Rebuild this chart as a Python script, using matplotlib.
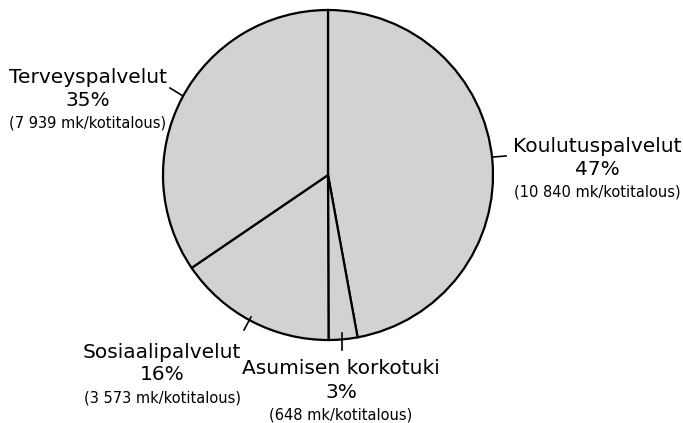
import matplotlib
matplotlib.use("Agg")
import matplotlib.pyplot as plt

# Household share of public services (mk per household)
labels = ["Koulutuspalvelut", "Asumisen korkotuki", "Sosiaalipalvelut", "Terveyspalvelut"]
values = [10840, 648, 3573, 7939]
percents = ["47%", "3%", "16%", "35%"]
amounts = ["(10 840 mk/kotitalous)", "(648 mk/kotitalous)",
           "(3 573 mk/kotitalous)", "(7 939 mk/kotitalous)"]

W, H = 683, 423
fig = plt.figure(figsize=(W / 100, H / 100), dpi=100)
ax = fig.add_axes([0, 0, 1, 1])

cx, cy, r = 328, H - 175, 165
ax.pie(values, center=(cx, cy), radius=r, startangle=90, counterclock=False,
       colors=["#d2d2d2"] * 4,
       wedgeprops=dict(edgecolor="black", linewidth=1.6), frame=True)
ax.set_xlim(0, W)
ax.set_ylim(0, H)
ax.set_aspect("equal")
ax.set_axis_off()

# label positions (image pixels: x, y of first line) and leader lines
text_pos = [(597, 146), (341, 369), (162, 352), (88, 77)]
leaders = [((493, 157), (506, 156)), ((342, 333), (342, 350)),
           ((244, 330), (251, 317)), ((170, 88), (183, 96))]

font = "DejaVu Sans"
for i in range(len(labels)):
    x, y = text_pos[i]
    ax.text(x, H - y, labels[i], ha="center", va="center", fontsize=14.5, family=font)
    ax.text(x, H - y - 23, percents[i], ha="center", va="center", fontsize=14.5, family=font)
    ax.text(x, H - y - 46, amounts[i], ha="center", va="center", fontsize=10.5, family=font)
    (x0, y0), (x1, y1) = leaders[i]
    ax.plot([x0, x1], [H - y0, H - y1], color="black", linewidth=1.2)

fig.savefig("out.png", dpi=100, facecolor="white")
